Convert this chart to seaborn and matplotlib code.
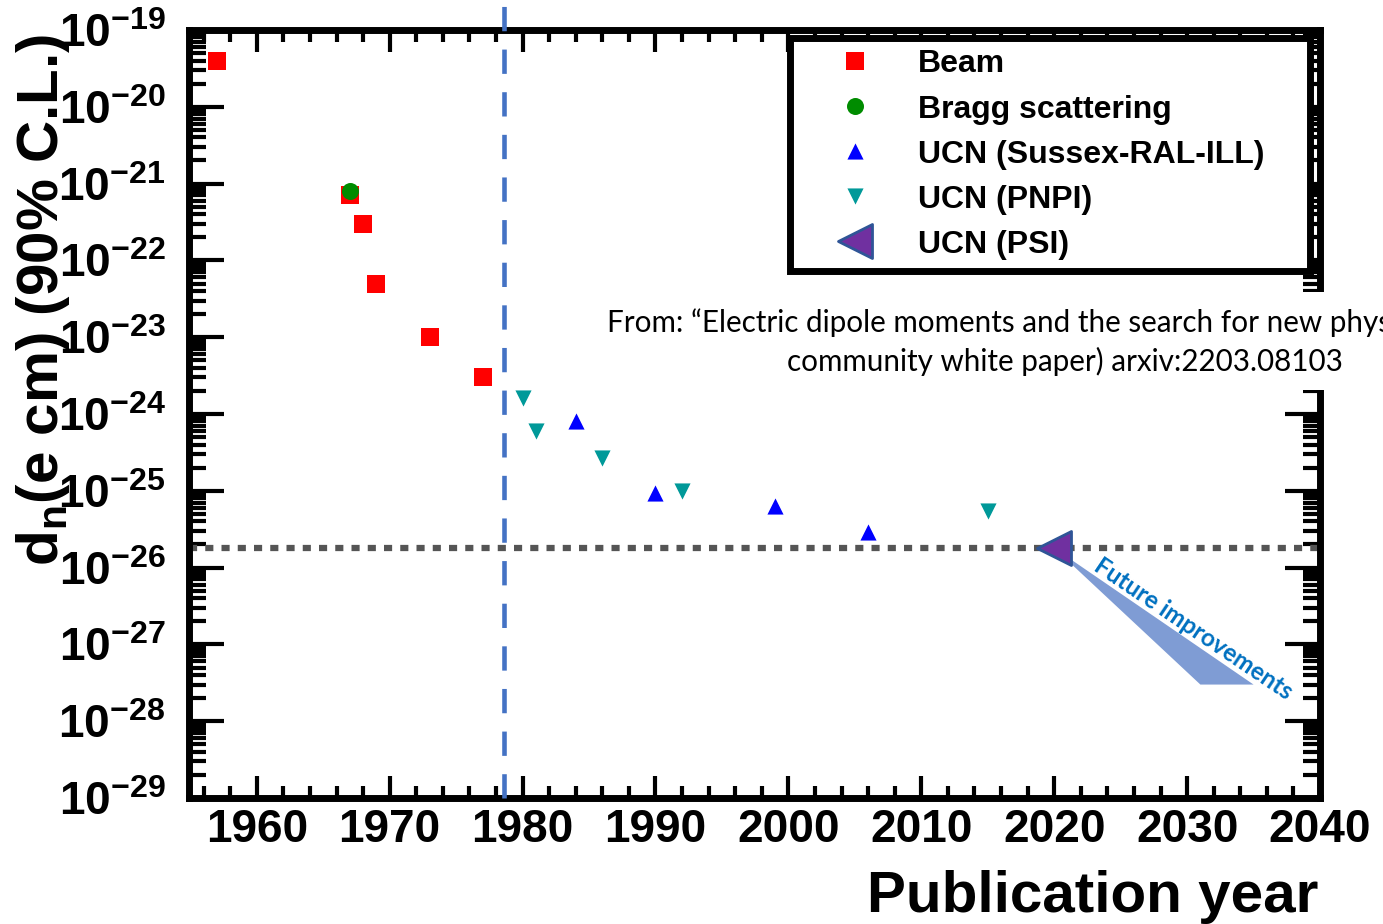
import numpy as np
import pandas as pd
import matplotlib
matplotlib.use("Agg")
import matplotlib.pyplot as plt
import seaborn as sns
from matplotlib.ticker import LogLocator, MultipleLocator, NullFormatter
from matplotlib.patches import Polygon, Rectangle

# ---------------- data ----------------
beam_year = [1957, 1967, 1968, 1969, 1973, 1977]
beam_dn = [4e-20, 7e-22, 3e-22, 5e-23, 1e-23, 3e-24]
bragg_year = [1967]
bragg_dn = [8e-22]
sussex_year = [1984, 1990, 1999, 2006]
sussex_dn = [8e-25, 9.5e-26, 6.3e-26, 2.9e-26]
pnpi_year = [1980, 1981, 1986, 1992, 2015]
pnpi_dn = [1.6e-24, 6e-25, 2.7e-25, 1e-25, 5.5e-26]
psi_year = [2020]
psi_dn = [1.8e-26]

current_limit = 1.8e-26
beam_ucn_boundary = 1978.6
future_years = [2020.0, 2035.0, 2031.0]
future_dn = [1.8e-26, 3e-28, 3e-28]

x_ticks = [1960, 1970, 1980, 1990, 2000, 2010, 2020, 2030, 2040]

# ---------------- style ----------------
sns.set_style("ticks")
plt.rcParams["font.family"] = ["Liberation Sans", "DejaVu Sans"]
plt.rcParams["font.weight"] = "bold"
plt.rcParams["mathtext.default"] = "regular"
for k in ["text.color", "axes.labelcolor", "xtick.color", "ytick.color",
          "xtick.labelcolor", "ytick.labelcolor", "axes.edgecolor"]:
    plt.rcParams[k] = "black"

W, H = 1383, 924
fig = plt.figure(figsize=(W / 100, H / 100), dpi=100)
ax = fig.add_axes([189 / W, 1 - 798 / H, (1320 - 189) / W, (798 - 30) / H])

# ---------------- marks ----------------
sns.scatterplot(x=beam_year, y=beam_dn, marker="s", s=185, color="#FF0000",
                linewidth=0, label="Beam", ax=ax, zorder=4)
sns.scatterplot(x=bragg_year, y=bragg_dn, marker="o", s=150, color="#008C00",
                linewidth=0, label="Bragg scattering", ax=ax, zorder=5)
sns.scatterplot(x=sussex_year, y=sussex_dn, marker="^", s=135, color="#0000FF",
                linewidth=0, label="UCN (Sussex-RAL-ILL)", ax=ax, zorder=4)
sns.scatterplot(x=pnpi_year, y=pnpi_dn, marker="v", s=135, color="#009999",
                linewidth=0, label="UCN (PNPI)", ax=ax, zorder=4)
sns.scatterplot(x=psi_year, y=psi_dn, marker="<", s=600, color="#7030A0",
                edgecolor="#2F5597", linewidth=2, label="UCN (PSI)", ax=ax, zorder=6)

ax.axhline(current_limit, color="#555555", lw=4.5, dashes=(1.3, 1.3), zorder=2)
ax.axvline(beam_ucn_boundary, ymin=0, ymax=1.045, clip_on=False, color="#4472C4",
           lw=3.3, dashes=(5.3, 4.0), zorder=3)

ax.add_patch(Polygon(list(zip(future_years, future_dn)), closed=True,
                     facecolor="#7F9CD4", edgecolor="none", zorder=3))
ax.text(2030.5, 1.6e-27, "Future improvements", rotation=-34, rotation_mode="anchor",
        ha="center", va="center", color="#0070C0", fontsize=17.5, fontweight="bold",
        family=["Lato", "DejaVu Sans"], zorder=7)

# ---------------- axes ----------------
ax.set_yscale("log")
ax.set_ylim(1e-29, 1e-19)
ax.set_xlim(1954.9, 2040)
ax.set_xticks(x_ticks)
ax.xaxis.set_minor_locator(MultipleLocator(2))
ax.yaxis.set_major_locator(LogLocator(base=10, numticks=30))
ax.yaxis.set_minor_locator(LogLocator(base=10, subs=np.arange(2, 10), numticks=200))
ax.yaxis.set_minor_formatter(NullFormatter())
ax.tick_params(which="both", direction="in", top=True, right=True, width=3,
               color="black", labelcolor="black")
ax.tick_params(axis="y", which="major", length=25, pad=17, labelsize=33)
ax.tick_params(axis="y", which="minor", length=12.5)
ax.tick_params(axis="x", which="major", length=16, pad=7, labelsize=33)
ax.tick_params(axis="x", which="minor", length=8.5)
for lab in ax.get_xticklabels() + ax.get_yticklabels():
    lab.set_fontweight("bold")
for sp in ax.spines.values():
    sp.set_linewidth(5)
    sp.set_color("black")
ax.set_xlabel("")
ax.set_ylabel("")
ax.grid(False)

# ---------------- legend ----------------
leg = ax.legend(loc="upper left", bbox_to_anchor=(790 / W, 1 - 38 / H, 520 / W, 0),
                bbox_transform=fig.transFigure, mode="expand", borderaxespad=0,
                fontsize=23, frameon=True, fancybox=False, framealpha=1,
                edgecolor="black", borderpad=0.36, handlelength=3.35,
                handletextpad=0.3, labelspacing=0.47, scatteryoffsets=[0.5])
leg.get_frame().set_linewidth(5)
leg.set_zorder(10)
for t in leg.get_texts():
    t.set_fontweight("bold")
    t.set_color("black")

# ---------------- texts ----------------
fig.text(1318 / W, 1 - 912 / H, "Publication year", ha="right", va="baseline",
         fontsize=42, fontweight="bold", color="black")
fig.text(43 / W, 1 - 300 / H, r"d$_\mathdefault{n}$(e cm) (90% C.L.)", rotation=90,
         ha="center", va="center", fontsize=42, fontweight="bold", color="black")

fig.patches.append(Rectangle((600 / W, 1 - 390 / H), 1 - 600 / W, 98 / H,
                             transform=fig.transFigure, facecolor="white",
                             edgecolor="none", zorder=20))
fig.text(607 / W, 1 - 322 / H,
         "From: \u201cElectric dipole moments and the search for new physics\u201d (Snowmass",
         ha="left", va="center", fontsize=21.3, fontweight="normal", color="black",
         family=["Lato", "DejaVu Sans"], zorder=21)
fig.text(787 / W, 1 - 361 / H, "community white paper) arxiv:2203.08103",
         ha="left", va="center", fontsize=21.3, fontweight="normal", color="black",
         family=["Lato", "DejaVu Sans"], zorder=21)

fig.savefig("out.png", dpi=100)
